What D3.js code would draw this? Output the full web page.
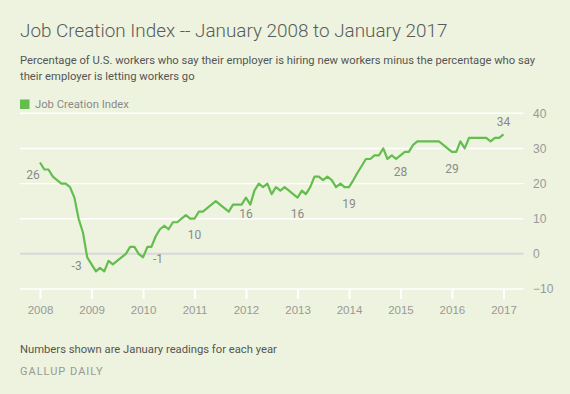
<!DOCTYPE html>
<html>
<head>
<meta charset="utf-8">
<script src="https://cdn.jsdelivr.net/npm/d3@7"></script>
<style>
  body { margin: 0; background: #edf3de; }
  svg { display: block; font-family: Roboto, "Open Sans", sans-serif; }
  .grid line { stroke: #fff; stroke-width: 1.4; }
  .axis text { fill: #999; }
</style>
</head>
<body>
<script>
// monthly readings, Jan 2008 .. Jan 2017
var years = [2008, 2009, 2010, 2011, 2012, 2013, 2014, 2015, 2016, 2017];
var values = [
  26, 24, 24, 22, 21, 20, 20, 19, 16, 10, 6, -1,
  -3, -5, -4, -5, -2, -3, -2, -1, 0, 2, 2, 0,
  -1, 2, 2, 5, 7, 8, 7, 9, 9, 10, 11, 10,
  10, 12, 12, 13, 14, 15, 14, 13, 12, 14, 14, 14,
  16, 14, 18, 20, 19, 20, 17, 19, 18, 19, 18, 17,
  16, 18, 17, 19, 22, 22, 21, 22, 21, 19, 20, 19,
  19, 21, 23, 25, 27, 27, 28, 28, 30, 27, 28, 27,
  28, 29, 29, 31, 32, 32, 32, 32, 32, 32, 31, 30,
  29, 29, 32, 30, 33, 33, 33, 33, 33, 32, 33, 33,
  34
];
var yTicks = [-10, 0, 10, 20, 30, 40];
// January readings shown on the chart
var janYears = [2008, 2009, 2010, 2011, 2012, 2013, 2014, 2015, 2016, 2017];
var janValues = [26, -3, -1, 10, 16, 16, 19, 28, 29, 34];
// label nudges so they sit off the line
var labelDx = [-7, -15, 15, 0, 0, 0, 0, 0, 0, 0];
var labelDy = [12.5, 1.5, 1.5, 16.5, 16.5, 16.5, 17, 16.5, 17, -13];

var data = values.map(function(v, i) {
  return { date: new Date(2008, i, 1), value: v };
});

var svg = d3.select("body").append("svg")
    .attr("width", 570)
    .attr("height", 394);

var x = d3.scaleTime()
    .domain([new Date(2008, 0, 1), new Date(2017, 0, 1)])
    .range([40, 503.5]);

var y = d3.scaleLinear()
    .domain([-10, 40])
    .range([289, 113.3]);

// shrink a text's font so it spans the given width
function fitText(sel, size, w) {
  sel.style("font-size", size + "px");
  var len = sel.node().getComputedTextLength();
  sel.style("font-size", (size * w / len) + "px");
  return size * w / len;
}

// titles
var title = svg.append("text")
    .attr("x", 20).attr("y", 37)
    .attr("fill", "#5a5a5a")
    .style("font-weight", 300)
    .text("Job Creation Index -- January 2008 to January 2017");
fitText(title, 20, 428);

var sub1 = svg.append("text")
    .attr("x", 20).attr("y", 63.5)
    .attr("fill", "#555")
    .text("Percentage of U.S. workers who say their employer is hiring new workers minus the percentage who say");
var subSize = fitText(sub1, 12, 516);
svg.append("text")
    .attr("x", 20).attr("y", 80)
    .attr("fill", "#555")
    .style("font-size", subSize + "px")
    .text("their employer is letting workers go");

// legend
svg.append("rect")
    .attr("x", 20).attr("y", 99.5)
    .attr("width", 9.5).attr("height", 9.5)
    .attr("fill", "#63bd4f");
var leg = svg.append("text")
    .attr("x", 35).attr("y", 108)
    .attr("fill", "#8a8a8a")
    .text("Job Creation Index");
fitText(leg, 11.5, 94);

// gridlines
svg.append("g")
    .attr("class", "grid")
    .selectAll("line")
    .data(yTicks)
    .enter().append("line")
      .attr("x1", 20).attr("x2", 523.5)
      .attr("y1", function(d) { return y(d); })
      .attr("y2", function(d) { return y(d); })
      .style("stroke", function(d) { return d === 0 ? "#d8d8d8" : null; })
      .style("stroke-width", function(d) { return d === 0 ? 2 : null; });

// y axis on the right
var yAxis = svg.append("g")
    .attr("class", "axis")
    .attr("transform", "translate(533,0)")
    .call(d3.axisRight(y).tickValues(yTicks).tickSize(0).tickPadding(0));
yAxis.select(".domain").remove();
yAxis.selectAll("text").style("font-size", "12px").attr("text-anchor", "start");

// x axis
var xAxis = svg.append("g")
    .attr("class", "axis")
    .attr("transform", "translate(0," + y(-10) + ")")
    .call(d3.axisBottom(x)
      .tickValues(years.map(function(yr) { return new Date(yr, 0, 1); }))
      .tickFormat(d3.timeFormat("%Y"))
      .tickSize(10).tickPadding(7));
xAxis.select(".domain").remove();
xAxis.selectAll("line").attr("stroke", "#fff").attr("stroke-width", 2);
xAxis.selectAll("text").style("font-size", "11.5px");

// line
var line = d3.line()
    .x(function(d) { return x(d.date); })
    .y(function(d) { return y(d.value); });

svg.append("path")
    .datum(data)
    .attr("fill", "none")
    .attr("stroke", "#63bd4f")
    .attr("stroke-width", 2.2)
    .attr("stroke-linejoin", "round")
    .attr("d", line);

// January labels
svg.append("g")
    .selectAll("text")
    .data(janYears)
    .enter().append("text")
      .attr("x", function(d, i) { return x(new Date(d, 0, 1)) + labelDx[i]; })
      .attr("y", function(d, i) { return y(janValues[i]) + labelDy[i]; })
      .attr("dy", "0.35em")
      .attr("text-anchor", "middle")
      .attr("fill", "#8a8a8a")
      .style("font-size", "12px")
      .text(function(d, i) { return janValues[i]; });

// footer
var note = svg.append("text")
    .attr("x", 20).attr("y", 352.5)
    .attr("fill", "#555")
    .text("Numbers shown are January readings for each year");
fitText(note, 11.5, 257);
svg.append("text")
    .attr("x", 20).attr("y", 375)
    .attr("fill", "#999")
    .style("font-size", "11px")
    .style("letter-spacing", "1px")
    .text("GALLUP DAILY");
</script>
</body>
</html>
